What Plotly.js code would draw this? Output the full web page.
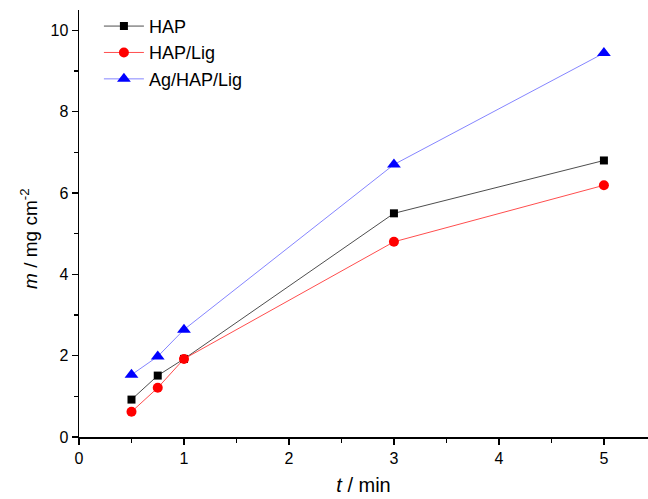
<!DOCTYPE html>
<html><head><meta charset="utf-8">
<script src="https://cdn.plot.ly/plotly-3.0.1.min.js"></script>
<style>body{margin:0;padding:0;background:#fff}#chart{width:648px;height:499px}</style>
</head><body><div id="chart"></div>
<script>
const time = [0.5, 0.75, 1, 3, 5];
const hap = [0.92, 1.51, 1.92, 5.5, 6.8];
const hapLig = [0.62, 1.21, 1.92, 4.8, 6.19];
const agHapLig = [1.53, 1.98, 2.64, 6.7, 9.44];
const seriesNames = ['HAP', 'HAP/Lig', 'Ag/HAP/Lig'];

const font = 'Liberation Sans, Arial, sans-serif';
const traces = [
  {x: time, y: hap, name: seriesNames[0], mode: 'lines+markers', cliponaxis: false,
   line: {color: '#000000', width: 0.7}, marker: {symbol: 'square', size: 8, color: '#000000'}},
  {x: time, y: hapLig, name: seriesNames[1], mode: 'lines+markers', cliponaxis: false,
   line: {color: '#ff0000', width: 0.7}, marker: {symbol: 'circle', size: 10, color: '#ff0000'}},
  {x: time, y: agHapLig, name: seriesNames[2], mode: 'lines+markers', cliponaxis: false,
   line: {color: '#5050ff', width: 0.7}, marker: {symbol: 'triangle-up', size: 12, color: '#0000ff'}}
];
const axisCommon = {
  showline: true, linecolor: '#000', linewidth: 1.5, mirror: false,
  ticks: 'outside', ticklen: 6, tickwidth: 1.5, tickcolor: '#000',
  showgrid: false, zeroline: false,
  tickfont: {family: font, size: 16, color: '#000'},
  minor: {ticks: 'outside', ticklen: 4, tickwidth: 1.5, tickcolor: '#000', showgrid: false}
};
const layout = {
  width: 648, height: 499,
  margin: {l: 79, r: 0, t: 10, b: 62},
  paper_bgcolor: '#fff', plot_bgcolor: '#fff',
  showlegend: true,
  legend: {x: 0.035, y: 1.005, xanchor: 'left', yanchor: 'top', font: {family: font, size: 18, color: '#000'},
           bgcolor: 'rgba(0,0,0,0)', tracegroupgap: 0, itemwidth: 40},
  xaxis: Object.assign({}, axisCommon, {range: [0, 5.42], dtick: 1, tick0: 0,
     minor: Object.assign({}, axisCommon.minor, {dtick: 0.5}),
     title: {text: '<i>t</i> / min', font: {family: font, size: 20, color: '#000'}, standoff: 12}}),
  yaxis: Object.assign({}, axisCommon, {range: [0, 10.5], dtick: 2, tick0: 0,
     minor: Object.assign({}, axisCommon.minor, {dtick: 1})}),
  annotations: [{
    text: '<i>m</i> / mg cm<sup>-2</sup>', xref: 'paper', yref: 'paper',
    x: -0.088, y: 0.466, xanchor: 'center', yanchor: 'middle', textangle: -90, showarrow: false,
    font: {family: font, size: 19, color: '#000'}
  }]
};
Plotly.newPlot('chart', traces, layout, {displayModeBar: false, staticPlot: true});
</script></body></html>
